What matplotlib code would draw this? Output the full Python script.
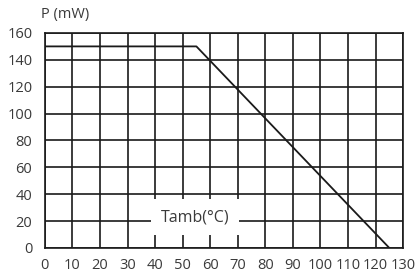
import matplotlib
matplotlib.use("Agg")
import matplotlib.pyplot as plt

# derating curve: power vs ambient temperature
temp = [0, 55, 125]
power = [150, 150, 0]
x_ticks = list(range(0, 131, 10))
y_ticks = list(range(0, 161, 20))

plt.rcParams["font.family"] = ["Open Sans", "DejaVu Sans"]

fig = plt.figure(figsize=(4.19, 2.77), dpi=100)
ax = fig.add_axes([0.107, 0.105, 0.855, 0.776])

ax.plot(temp, power, color="#1a1a1a", linewidth=1.3, zorder=3)

ax.set_xlim(0, 130)
ax.set_ylim(0, 160)
ax.set_xticks(x_ticks)
ax.set_yticks(y_ticks)
ax.grid(True, color="#1a1a1a", linewidth=1.2)
ax.tick_params(length=0, labelsize=10.5, colors="#3a3a3a")
ax.tick_params(axis="y", pad=9)
ax.tick_params(axis="x", pad=7)
for s in ax.spines.values():
    s.set_color("#1a1a1a")
    s.set_linewidth(1.2)

ax.text(54.5, 23, "Tamb(°C)", ha="center", va="center", fontsize=11.5,
        color="#3a3a3a", zorder=4,
        bbox=dict(facecolor="white", edgecolor="none", pad=7))
fig.text(0.098, 0.946, "P (mW)", fontsize=10.5, color="#3a3a3a",
         ha="left", va="center")

fig.savefig("out.png", dpi=100)
